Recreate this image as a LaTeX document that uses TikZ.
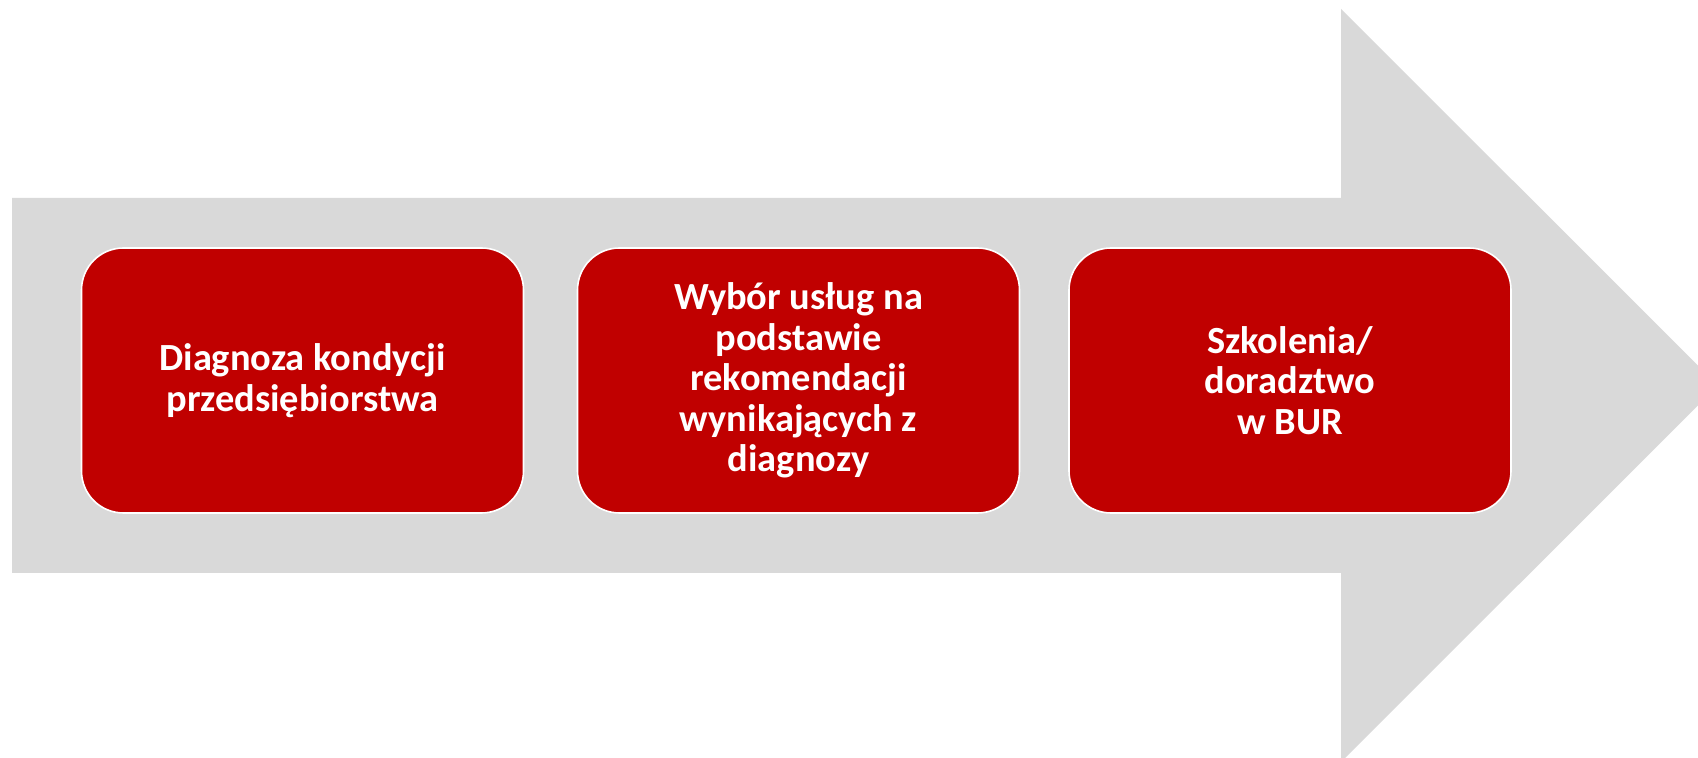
\documentclass[tikz,border=0pt]{standalone}
\usepackage{fontspec}
\setmainfont{Carlito}
\definecolor{arrowgray}{HTML}{D9D9D9}
\definecolor{boxred}{HTML}{C00000}
\begin{document}
\begin{tikzpicture}[x=0.5pt,y=-0.5pt,
  stepbox/.style={draw=white, line width=0.8pt, fill=boxred, rounded corners=21pt,
    minimum width=221pt, minimum height=132.5pt, inner sep=0pt,
    text=white, align=center, font=\fontsize{19.2pt}{20.3pt}\selectfont\bfseries}]
\useasboundingbox (0,0) rectangle (1698,758);
\clip (0,0) rectangle (1698,758);
\fill[white] (0,0) rectangle (1698,758);
\fill[arrowgray] (12,198) -- (1341,198) -- (1341,9) -- (1718,385.5) -- (1341,762) -- (1341,573) -- (12,573) -- cycle;
\node[stepbox] (a) at (302.5,380.5) {Diagnoza kondycji\\przedsiębiorstwa};
\node[stepbox] (b) at (798.5,380.5) {Wybór usług na\\podstawie\\rekomendacji\\wynikających z\\diagnozy};
\node[stepbox] (c) at (1290,380.5) {Szkolenia/\\doradztwo\\w BUR};
\end{tikzpicture}
\end{document}
